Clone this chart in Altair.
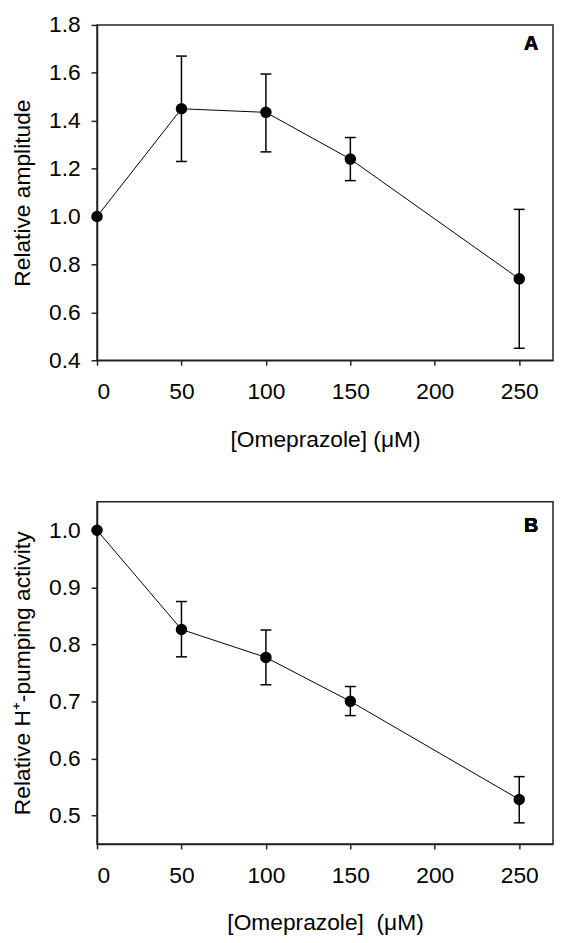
import altair as alt
import pandas as pd

# ---- data ----
conc = [0, 50, 100, 150, 250]

amp = [1.00, 1.45, 1.435, 1.24, 0.74]
amp_err_conc = [50, 100, 150, 250]
amp_lo = [1.23, 1.27, 1.15, 0.45]
amp_hi = [1.67, 1.595, 1.33, 1.03]

pump = [1.00, 0.826, 0.777, 0.700, 0.528]
pump_err_conc = [50, 100, 150, 250]
pump_lo = [0.778, 0.729, 0.675, 0.487]
pump_hi = [0.875, 0.825, 0.726, 0.568]

x_ticks = [0, 50, 100, 150, 200, 250]
ya_ticks = [0.4, 0.6, 0.8, 1.0, 1.2, 1.4, 1.6, 1.8]
yb_ticks = [0.5, 0.6, 0.7, 0.8, 0.9, 1.0]

FONT = "Liberation Sans"
FS = 23


def panel(yvals, err_x, lo, hi, ydom, yticks, ytitle, xtitle, letter, height, ly):
    df = pd.DataFrame({"conc": conc, "val": yvals})
    edf = pd.DataFrame({"conc": err_x, "lo": lo, "hi": hi})
    xenc = alt.X(
        "conc:Q",
        scale=alt.Scale(domain=[0, 270], nice=False, zero=False),
        axis=alt.Axis(values=x_ticks, title=xtitle, format="d"),
    )
    yscale = alt.Scale(domain=ydom, nice=False, zero=False)
    yaxis = alt.Axis(values=yticks, title=ytitle, format=".1f")

    line = alt.Chart(df).mark_line(color="black", strokeWidth=1).encode(
        x=xenc, y=alt.Y("val:Q", scale=yscale, axis=yaxis)
    )
    rules = alt.Chart(edf).mark_rule(color="black", strokeWidth=1.5).encode(
        x=xenc, y=alt.Y("lo:Q", scale=yscale), y2="hi:Q"
    )
    cap_lo = alt.Chart(edf).mark_tick(
        color="black", orient="horizontal", size=11, thickness=1.5, opacity=1
    ).encode(x=xenc, y=alt.Y("lo:Q", scale=yscale))
    cap_hi = alt.Chart(edf).mark_tick(
        color="black", orient="horizontal", size=11, thickness=1.5, opacity=1
    ).encode(x=xenc, y=alt.Y("hi:Q", scale=yscale))
    pts = alt.Chart(df).mark_circle(color="black", size=135, opacity=1).encode(
        x=xenc, y=alt.Y("val:Q", scale=yscale)
    )
    lab = alt.Chart(df).mark_text(
        text=letter, font=FONT, fontSize=20, fontWeight="bold", color="black",
        align="right", baseline="middle"
    ).encode(x=alt.value(446), y=alt.value(ly))
    return alt.layer(line, rules, cap_lo, cap_hi, pts, lab).properties(
        width=461, height=height
    )


a = panel(amp, amp_err_conc, amp_lo, amp_hi, [0.4, 1.8], ya_ticks,
          "Relative amplitude", "[Omeprazole] (\u03bcM)", "A", 339, 19)
b = panel(pump, pump_err_conc, pump_lo, pump_hi, [0.45, 1.05], yb_ticks,
          "Relative H\u207a-pumping activity", "[Omeprazole]\u00a0 (\u03bcM)", "B", 346, 25)

chart = alt.vconcat(a, b, spacing=143, bounds="flush").properties(
    padding={"left": 3, "top": 0, "right": 0, "bottom": 0}
).configure_view(
    stroke="#222222", strokeWidth=1.5
).configure_axis(
    grid=False,
    labelFont=FONT, titleFont=FONT,
    labelFontSize=FS, titleFontSize=FS,
    titleFontWeight="normal",
    labelColor="black", titleColor="black",
    domainColor="#222222", tickColor="#222222",
    domainWidth=1.5, tickWidth=1.5,
).configure_axisX(
    tickSize=5, labelPadding=16, titlePadding=25,
).configure_axisY(
    tickSize=6, labelPadding=11, titlePadding=14,
)

chart.save("out.html", embed_options={"renderer": "svg", "actions": False})
